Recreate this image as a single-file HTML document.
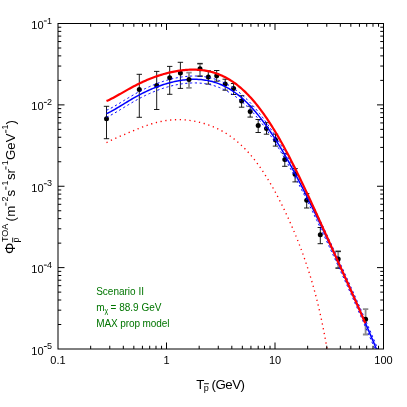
<!DOCTYPE html>
<html><head><meta charset="utf-8"><title>plot</title>
<style>
html,body{margin:0;padding:0;background:#fff;}
body{width:407px;height:407px;overflow:hidden;font-family:"Liberation Sans",sans-serif;}
svg{display:block;will-change:transform;}
svg text{font-family:"Liberation Sans",sans-serif;fill:#000;}
</style></head><body>
<svg width="407" height="407" viewBox="0 0 407 407">
<rect x="0" y="0" width="407" height="407" fill="#fff"/>
<defs><clipPath id="c"><rect x="58.0" y="23.5" width="325.5" height="325.5"/></clipPath></defs>
<g fill="none" stroke="#8c8c8c" stroke-width="1.8"><path d="M189.00,72.60V87.80M186.30,72.60h5.40M186.30,87.80h5.40M200.00,63.70V76.20M197.30,63.70h5.40M197.30,76.20h5.40M338.20,251.30V268.10M335.50,251.30h5.40M335.50,268.10h5.40M365.60,309.20V334.50M362.90,309.20h5.40M362.90,334.50h5.40"/></g>
<g fill="none" stroke="#000" stroke-width="0.9"><path d="M106.50,106.30V138.70M103.80,106.30h5.40M103.80,138.70h5.40M139.30,74.30V117.30M136.60,74.30h5.40M136.60,117.30h5.40M156.70,71.40V109.50M154.00,71.40h5.40M154.00,109.50h5.40M169.70,66.40V94.30M167.00,66.40h5.40M167.00,94.30h5.40M180.40,62.30V88.40M177.70,62.30h5.40M177.70,88.40h5.40M208.30,70.80V84.10M205.60,70.80h5.40M205.60,84.10h5.40M216.70,70.50V81.20M214.00,70.50h5.40M214.00,81.20h5.40M225.20,79.20V90.20M222.50,79.20h5.40M222.50,90.20h5.40M233.60,83.50V94.50M230.90,83.50h5.40M230.90,94.50h5.40M241.60,95.70V107.20M238.90,95.70h5.40M238.90,107.20h5.40M250.20,106.20V117.10M247.50,106.20h5.40M247.50,117.10h5.40M258.20,119.50V132.50M255.50,119.50h5.40M255.50,132.50h5.40M266.50,122.70V134.20M263.80,122.70h5.40M263.80,134.20h5.40M275.50,134.20V146.10M272.80,134.20h5.40M272.80,146.10h5.40M284.80,153.60V166.30M282.10,153.60h5.40M282.10,166.30h5.40M295.10,168.60V181.90M292.40,168.60h5.40M292.40,181.90h5.40M306.70,193.60V208.00M304.00,193.60h5.40M304.00,208.00h5.40M320.30,227.50V243.70M317.60,227.50h5.40M317.60,243.70h5.40M197.30,63.70h5.40M197.30,76.20h5.40M335.50,251.30h5.40M335.50,268.10h5.40"/></g>
<g fill="#000"><circle cx="106.50" cy="118.80" r="2.5"/><circle cx="139.30" cy="89.50" r="2.5"/><circle cx="156.70" cy="85.40" r="2.5"/><circle cx="169.70" cy="77.70" r="2.5"/><circle cx="180.40" cy="72.90" r="2.5"/><circle cx="200.00" cy="68.80" r="2.5"/><circle cx="208.30" cy="77.00" r="2.5"/><circle cx="216.70" cy="75.80" r="2.5"/><circle cx="225.20" cy="84.10" r="2.5"/><circle cx="233.60" cy="88.60" r="2.5"/><circle cx="241.60" cy="101.00" r="2.5"/><circle cx="250.20" cy="111.50" r="2.5"/><circle cx="258.20" cy="125.40" r="2.5"/><circle cx="266.50" cy="128.40" r="2.5"/><circle cx="275.50" cy="139.90" r="2.5"/><circle cx="284.80" cy="159.50" r="2.5"/><circle cx="295.10" cy="174.20" r="2.5"/><circle cx="306.70" cy="200.20" r="2.5"/><circle cx="320.30" cy="234.80" r="2.5"/><circle cx="338.20" cy="258.90" r="2.5"/></g>
<g clip-path="url(#c)" fill="none">
<path d="M106.50,110.29 L107.89,109.67 L109.28,109.01 L110.68,108.31 L112.07,107.57 L113.46,106.80 L114.85,106.01 L116.24,105.20 L117.64,104.38 L119.03,103.54 L120.42,102.70 L121.81,101.85 L123.20,101.00 L124.60,100.15 L125.99,99.30 L127.38,98.45 L128.77,97.62 L130.16,96.79 L131.56,95.97 L132.95,95.16 L134.34,94.36 L135.73,93.58 L137.12,92.81 L138.52,92.05 L139.91,91.31 L141.30,90.58 L142.69,89.87 L144.08,89.18 L145.47,88.50 L146.87,87.84 L148.26,87.19 L149.65,86.57 L151.04,85.96 L152.43,85.36 L153.83,84.79 L155.22,84.23 L156.61,83.69 L158.00,83.17 L159.39,82.66 L160.79,82.17 L162.18,81.70 L163.57,81.25 L164.96,80.81 L166.35,80.39 L167.75,79.99 L169.14,79.61 L170.53,79.24 L171.92,78.89 L173.31,78.56 L174.71,78.25 L176.10,77.96 L177.49,77.69 L178.88,77.43 L180.27,77.20 L181.67,76.99 L183.06,76.79 L184.45,76.62 L185.84,76.46 L187.23,76.33 L188.63,76.22 L190.02,76.14 L191.41,76.07 L192.80,76.03 L194.19,76.02 L195.59,76.03 L196.98,76.06 L198.37,76.12 L199.76,76.21 L201.15,76.32 L202.55,76.47 L203.94,76.64 L205.33,76.84 L206.72,77.07 L208.11,77.33 L209.51,77.62 L210.90,77.94 L212.29,78.30 L213.68,78.69 L215.07,79.11 L216.46,79.57 L217.86,80.06 L219.25,80.59 L220.64,81.16 L222.03,81.76 L223.42,82.40 L224.82,83.08 L226.21,83.80 L227.60,84.56 L228.99,85.35 L230.38,86.19 L231.78,87.07 L233.17,87.99 L234.56,88.95 L235.95,89.95 L237.34,91.00 L238.74,92.08 L240.13,93.21 L241.52,94.39 L242.91,95.60 L244.30,96.86 L245.70,98.17 L247.09,99.51 L248.48,100.90 L249.87,102.34 L251.26,103.81 L252.66,105.33 L254.05,106.90 L255.44,108.50 L256.83,110.15 L258.22,111.84 L259.62,113.58 L261.01,115.35 L262.40,117.17 L263.79,119.03 L265.18,120.92 L266.58,122.86 L267.97,124.84 L269.36,126.86 L270.75,128.92 L272.14,131.01 L273.54,133.14 L274.93,135.31 L276.32,137.51 L277.71,139.75 L279.10,142.02 L280.49,144.33 L281.89,146.67 L283.28,149.04 L284.67,151.44 L286.06,153.88 L287.45,156.34 L288.85,158.83 L290.24,161.35 L291.63,163.89 L293.02,166.47 L294.41,169.06 L295.81,171.68 L297.20,174.33 L298.59,176.99 L299.98,179.68 L301.37,182.39 L302.77,185.12 L304.16,187.87 L305.55,190.63 L306.94,193.42 L308.33,196.22 L309.73,199.03 L311.12,201.86 L312.51,204.71 L313.90,207.57 L315.29,210.44 L316.69,213.32 L318.08,216.22 L319.47,219.13 L320.86,222.05 L322.25,224.97 L323.65,227.91 L325.04,230.86 L326.43,233.82 L327.82,236.78 L329.21,239.75 L330.61,242.73 L332.00,245.72 L333.39,248.72 L334.78,251.72 L336.17,254.74 L337.57,257.76 L338.96,260.78 L340.35,263.82 L341.74,266.86 L343.13,269.91 L344.53,272.96 L345.92,276.03 L347.31,279.10 L348.70,282.19 L350.09,285.28 L351.48,288.37 L352.88,291.48 L354.27,294.60 L355.66,297.73 L357.05,300.86 L358.44,304.01 L359.84,307.17 L361.23,310.34 L362.62,313.52 L364.01,316.71 L365.40,319.91 L366.80,323.12 L368.19,326.35 L369.58,329.58 L370.97,332.83 L372.36,336.08 L373.76,339.35 L375.15,342.63 L376.54,345.91 L377.93,349.21 L379.32,352.51 L380.72,355.82 L382.11,359.13 L383.50,362.45" stroke="#0000ff" stroke-width="1" stroke-dasharray="2.2 2.6"/>
<path d="M106.50,117.19 L107.89,116.57 L109.28,115.91 L110.68,115.21 L112.07,114.47 L113.46,113.70 L114.85,112.91 L116.24,112.10 L117.64,111.28 L119.03,110.44 L120.42,109.60 L121.81,108.75 L123.20,107.90 L124.60,107.05 L125.99,106.20 L127.38,105.35 L128.77,104.52 L130.16,103.69 L131.56,102.87 L132.95,102.06 L134.34,101.26 L135.73,100.48 L137.12,99.71 L138.52,98.95 L139.91,98.21 L141.30,97.48 L142.69,96.77 L144.08,96.08 L145.47,95.40 L146.87,94.74 L148.26,94.09 L149.65,93.47 L151.04,92.86 L152.43,92.26 L153.83,91.69 L155.22,91.13 L156.61,90.59 L158.00,90.07 L159.39,89.56 L160.79,89.07 L162.18,88.60 L163.57,88.15 L164.96,87.71 L166.35,87.29 L167.75,86.89 L169.14,86.51 L170.53,86.14 L171.92,85.79 L173.31,85.46 L174.71,85.15 L176.10,84.86 L177.49,84.59 L178.88,84.33 L180.27,84.10 L181.67,83.89 L183.06,83.69 L184.45,83.52 L185.84,83.36 L187.23,83.23 L188.63,83.12 L190.02,83.04 L191.41,82.97 L192.80,82.93 L194.19,82.92 L195.59,82.93 L196.98,82.96 L198.37,83.02 L199.76,83.11 L201.15,83.22 L202.55,83.37 L203.94,83.54 L205.33,83.74 L206.72,83.97 L208.11,84.23 L209.51,84.52 L210.90,84.84 L212.29,85.20 L213.68,85.59 L215.07,86.01 L216.46,86.47 L217.86,86.96 L219.25,87.49 L220.64,88.06 L222.03,88.66 L223.42,89.30 L224.82,89.98 L226.21,90.70 L227.60,91.46 L228.99,92.25 L230.38,93.09 L231.78,93.97 L233.17,94.89 L234.56,95.85 L235.95,96.85 L237.34,97.90 L238.74,98.98 L240.13,100.11 L241.52,101.29 L242.91,102.50 L244.30,103.76 L245.70,105.07 L247.09,106.41 L248.48,107.80 L249.87,109.24 L251.26,110.71 L252.66,112.23 L254.05,113.80 L255.44,115.40 L256.83,117.05 L258.22,118.74 L259.62,120.48 L261.01,122.25 L262.40,124.07 L263.79,125.93 L265.18,127.82 L266.58,129.76 L267.97,131.74 L269.36,133.76 L270.75,135.82 L272.14,137.91 L273.54,140.04 L274.93,142.21 L276.32,144.41 L277.71,146.65 L279.10,148.92 L280.49,151.23 L281.89,153.57 L283.28,155.94 L284.67,158.34 L286.06,160.78 L287.45,163.24 L288.85,165.73 L290.24,168.25 L291.63,170.79 L293.02,173.37 L294.41,175.96 L295.81,178.58 L297.20,181.23 L298.59,183.89 L299.98,186.58 L301.37,189.29 L302.77,192.02 L304.16,194.77 L305.55,197.53 L306.94,200.32 L308.33,203.12 L309.73,205.93 L311.12,208.76 L312.51,211.61 L313.90,214.47 L315.29,217.34 L316.69,220.22 L318.08,223.12 L319.47,226.03 L320.86,228.95 L322.25,231.87 L323.65,234.81 L325.04,237.76 L326.43,240.72 L327.82,243.68 L329.21,246.65 L330.61,249.63 L332.00,252.62 L333.39,255.62 L334.78,258.62 L336.17,261.64 L337.57,264.66 L338.96,267.68 L340.35,270.72 L341.74,273.76 L343.13,276.81 L344.53,279.86 L345.92,282.93 L347.31,286.00 L348.70,289.09 L350.09,292.18 L351.48,295.27 L352.88,298.38 L354.27,301.50 L355.66,304.63 L357.05,307.76 L358.44,310.91 L359.84,314.07 L361.23,317.24 L362.62,320.42 L364.01,323.61 L365.40,326.81 L366.80,330.02 L368.19,333.25 L369.58,336.48 L370.97,339.73 L372.36,342.98 L373.76,346.25 L375.15,349.53 L376.54,352.81 L377.93,356.11 L379.32,359.41 L380.72,362.72 L382.11,366.03 L383.50,369.35" stroke="#0000ff" stroke-width="1" stroke-dasharray="2.2 2.6"/>
<path d="M106.50,113.59 L107.89,112.97 L109.28,112.31 L110.68,111.61 L112.07,110.87 L113.46,110.10 L114.85,109.31 L116.24,108.50 L117.64,107.68 L119.03,106.84 L120.42,106.00 L121.81,105.15 L123.20,104.30 L124.60,103.45 L125.99,102.60 L127.38,101.75 L128.77,100.92 L130.16,100.09 L131.56,99.27 L132.95,98.46 L134.34,97.66 L135.73,96.88 L137.12,96.11 L138.52,95.35 L139.91,94.61 L141.30,93.88 L142.69,93.17 L144.08,92.48 L145.47,91.80 L146.87,91.14 L148.26,90.49 L149.65,89.87 L151.04,89.26 L152.43,88.66 L153.83,88.09 L155.22,87.53 L156.61,86.99 L158.00,86.47 L159.39,85.96 L160.79,85.47 L162.18,85.00 L163.57,84.55 L164.96,84.11 L166.35,83.69 L167.75,83.29 L169.14,82.91 L170.53,82.54 L171.92,82.19 L173.31,81.86 L174.71,81.55 L176.10,81.26 L177.49,80.99 L178.88,80.73 L180.27,80.50 L181.67,80.29 L183.06,80.09 L184.45,79.92 L185.84,79.76 L187.23,79.63 L188.63,79.52 L190.02,79.44 L191.41,79.37 L192.80,79.33 L194.19,79.32 L195.59,79.33 L196.98,79.36 L198.37,79.42 L199.76,79.51 L201.15,79.62 L202.55,79.77 L203.94,79.94 L205.33,80.14 L206.72,80.37 L208.11,80.63 L209.51,80.92 L210.90,81.24 L212.29,81.60 L213.68,81.99 L215.07,82.41 L216.46,82.87 L217.86,83.36 L219.25,83.89 L220.64,84.46 L222.03,85.06 L223.42,85.70 L224.82,86.38 L226.21,87.10 L227.60,87.86 L228.99,88.65 L230.38,89.49 L231.78,90.37 L233.17,91.29 L234.56,92.25 L235.95,93.25 L237.34,94.30 L238.74,95.38 L240.13,96.51 L241.52,97.69 L242.91,98.90 L244.30,100.16 L245.70,101.47 L247.09,102.81 L248.48,104.20 L249.87,105.64 L251.26,107.11 L252.66,108.63 L254.05,110.20 L255.44,111.80 L256.83,113.45 L258.22,115.14 L259.62,116.88 L261.01,118.65 L262.40,120.47 L263.79,122.33 L265.18,124.22 L266.58,126.16 L267.97,128.14 L269.36,130.16 L270.75,132.22 L272.14,134.31 L273.54,136.44 L274.93,138.61 L276.32,140.81 L277.71,143.05 L279.10,145.32 L280.49,147.63 L281.89,149.97 L283.28,152.34 L284.67,154.74 L286.06,157.18 L287.45,159.64 L288.85,162.13 L290.24,164.65 L291.63,167.19 L293.02,169.77 L294.41,172.36 L295.81,174.98 L297.20,177.63 L298.59,180.29 L299.98,182.98 L301.37,185.69 L302.77,188.42 L304.16,191.17 L305.55,193.93 L306.94,196.72 L308.33,199.52 L309.73,202.33 L311.12,205.16 L312.51,208.01 L313.90,210.87 L315.29,213.74 L316.69,216.62 L318.08,219.52 L319.47,222.43 L320.86,225.35 L322.25,228.27 L323.65,231.21 L325.04,234.16 L326.43,237.12 L327.82,240.08 L329.21,243.05 L330.61,246.03 L332.00,249.02 L333.39,252.02 L334.78,255.02 L336.17,258.04 L337.57,261.06 L338.96,264.08 L340.35,267.12 L341.74,270.16 L343.13,273.21 L344.53,276.26 L345.92,279.33 L347.31,282.40 L348.70,285.49 L350.09,288.58 L351.48,291.67 L352.88,294.78 L354.27,297.90 L355.66,301.03 L357.05,304.16 L358.44,307.31 L359.84,310.47 L361.23,313.64 L362.62,316.82 L364.01,320.01 L365.40,323.21 L366.80,326.42 L368.19,329.65 L369.58,332.88 L370.97,336.13 L372.36,339.38 L373.76,342.65 L375.15,345.93 L376.54,349.21 L377.93,352.51 L379.32,355.81 L380.72,359.12 L382.11,362.43 L383.50,365.75" stroke="#0000ff" stroke-width="1.5"/>
<g fill="#000"><circle cx="189.00" cy="79.50" r="2.5"/><circle cx="365.60" cy="319.30" r="2.5"/></g>
<path d="M106.50,142.56 L107.61,141.97 L108.72,141.41 L109.83,140.87 L110.94,140.34 L112.05,139.83 L113.15,139.32 L114.26,138.83 L115.37,138.34 L116.48,137.85 L117.59,137.37 L118.70,136.90 L119.81,136.42 L120.92,135.95 L122.03,135.48 L123.14,135.00 L124.24,134.53 L125.35,134.06 L126.46,133.59 L127.57,133.12 L128.68,132.65 L129.79,132.18 L130.90,131.71 L132.01,131.25 L133.12,130.78 L134.23,130.32 L135.34,129.86 L136.44,129.41 L137.55,128.96 L138.66,128.51 L139.77,128.07 L140.88,127.64 L141.99,127.21 L143.10,126.79 L144.21,126.38 L145.32,125.98 L146.43,125.58 L147.53,125.20 L148.64,124.82 L149.75,124.45 L150.86,124.10 L151.97,123.76 L153.08,123.43 L154.19,123.11 L155.30,122.80 L156.41,122.51 L157.52,122.23 L158.63,121.96 L159.73,121.71 L160.84,121.47 L161.95,121.25 L163.06,121.04 L164.17,120.84 L165.28,120.66 L166.39,120.50 L167.50,120.35 L168.61,120.21 L169.72,120.09 L170.82,119.98 L171.93,119.89 L173.04,119.82 L174.15,119.76 L175.26,119.71 L176.37,119.68 L177.48,119.66 L178.59,119.66 L179.70,119.67 L180.81,119.70 L181.92,119.74 L183.02,119.79 L184.13,119.86 L185.24,119.95 L186.35,120.05 L187.46,120.16 L188.57,120.29 L189.68,120.43 L190.79,120.58 L191.90,120.75 L193.01,120.93 L194.11,121.13 L195.22,121.34 L196.33,121.56 L197.44,121.80 L198.55,122.05 L199.66,122.32 L200.77,122.60 L201.88,122.89 L202.99,123.20 L204.10,123.52 L205.21,123.86 L206.31,124.22 L207.42,124.59 L208.53,124.97 L209.64,125.37 L210.75,125.79 L211.86,126.22 L212.97,126.67 L214.08,127.14 L215.19,127.62 L216.30,128.12 L217.40,128.64 L218.51,129.18 L219.62,129.74 L220.73,130.32 L221.84,130.92 L222.95,131.53 L224.06,132.17 L225.17,132.83 L226.28,133.52 L227.39,134.22 L228.49,134.95 L229.60,135.70 L230.71,136.47 L231.82,137.27 L232.93,138.10 L234.04,138.95 L235.15,139.83 L236.26,140.73 L237.37,141.66 L238.48,142.62 L239.59,143.60 L240.69,144.62 L241.80,145.66 L242.91,146.73 L244.02,147.83 L245.13,148.97 L246.24,150.13 L247.35,151.32 L248.46,152.55 L249.57,153.80 L250.68,155.09 L251.78,156.41 L252.89,157.77 L254.00,159.15 L255.11,160.57 L256.22,162.02 L257.33,163.51 L258.44,165.02 L259.55,166.58 L260.66,168.16 L261.77,169.78 L262.88,171.43 L263.98,173.11 L265.09,174.83 L266.20,176.58 L267.31,178.37 L268.42,180.18 L269.53,182.04 L270.64,183.92 L271.75,185.84 L272.86,187.79 L273.97,189.77 L275.07,191.78 L276.18,193.83 L277.29,195.91 L278.40,198.03 L279.51,200.17 L280.62,202.35 L281.73,204.56 L282.84,206.81 L283.95,209.09 L285.06,211.40 L286.17,213.75 L287.27,216.13 L288.38,218.55 L289.49,221.00 L290.60,223.50 L291.71,226.03 L292.82,228.60 L293.93,231.21 L295.04,233.86 L296.15,236.56 L297.26,239.31 L298.36,242.11 L299.47,244.96 L300.58,247.86 L301.69,250.82 L302.80,253.85 L303.91,256.94 L305.02,260.10 L306.13,263.34 L307.24,266.66 L308.35,270.06 L309.46,273.56 L310.56,277.15 L311.67,280.86 L312.78,284.67 L313.89,288.61 L315.00,292.69 L316.11,296.90 L317.22,301.27 L318.33,305.81 L319.44,310.52 L320.55,315.42 L321.65,320.53 L322.76,325.85 L323.87,331.41 L324.98,337.23 L326.09,343.31 L327.20,349.69" stroke="#ff0000" stroke-width="1.35" stroke-dasharray="1.25 3.59"/>
<path d="M106.50,101.04 L107.80,100.48 L109.10,99.88 L110.40,99.25 L111.70,98.60 L113.00,97.92 L114.30,97.23 L115.60,96.52 L116.90,95.80 L118.20,95.07 L119.51,94.33 L120.81,93.59 L122.11,92.85 L123.41,92.11 L124.71,91.36 L126.01,90.63 L127.31,89.89 L128.61,89.16 L129.91,88.44 L131.21,87.73 L132.51,87.03 L133.81,86.34 L135.11,85.66 L136.41,84.99 L137.71,84.33 L139.01,83.68 L140.31,83.05 L141.61,82.43 L142.91,81.82 L144.21,81.23 L145.52,80.65 L146.82,80.09 L148.12,79.54 L149.42,79.00 L150.72,78.48 L152.02,77.97 L153.32,77.48 L154.62,77.00 L155.92,76.54 L157.22,76.09 L158.52,75.65 L159.82,75.23 L161.12,74.83 L162.42,74.44 L163.72,74.06 L165.02,73.70 L166.32,73.35 L167.62,73.01 L168.92,72.69 L170.22,72.39 L171.53,72.10 L172.83,71.83 L174.13,71.57 L175.43,71.32 L176.73,71.09 L178.03,70.88 L179.33,70.68 L180.63,70.50 L181.93,70.34 L183.23,70.19 L184.53,70.06 L185.83,69.95 L187.13,69.85 L188.43,69.77 L189.73,69.72 L191.03,69.68 L192.33,69.66 L193.63,69.66 L194.93,69.68 L196.23,69.72 L197.54,69.78 L198.84,69.86 L200.14,69.97 L201.44,70.10 L202.74,70.25 L204.04,70.43 L205.34,70.63 L206.64,70.86 L207.94,71.11 L209.24,71.39 L210.54,71.70 L211.84,72.03 L213.14,72.40 L214.44,72.79 L215.74,73.21 L217.04,73.67 L218.34,74.15 L219.64,74.67 L220.94,75.21 L222.24,75.79 L223.55,76.41 L224.85,77.05 L226.15,77.74 L227.45,78.45 L228.75,79.20 L230.05,79.99 L231.35,80.82 L232.65,81.68 L233.95,82.58 L235.25,83.51 L236.55,84.49 L237.85,85.50 L239.15,86.55 L240.45,87.64 L241.75,88.77 L243.05,89.95 L244.35,91.16 L245.65,92.41 L246.95,93.70 L248.25,95.03 L249.56,96.40 L250.86,97.81 L252.16,99.27 L253.46,100.76 L254.76,102.30 L256.06,103.87 L257.36,105.49 L258.66,107.15 L259.96,108.85 L261.26,110.58 L262.56,112.36 L263.86,114.18 L265.16,116.03 L266.46,117.93 L267.76,119.86 L269.06,121.83 L270.36,123.84 L271.66,125.89 L272.96,127.97 L274.26,130.09 L275.57,132.25 L276.87,134.44 L278.17,136.66 L279.47,138.92 L280.77,141.21 L282.07,143.53 L283.37,145.89 L284.67,148.27 L285.97,150.69 L287.27,153.13 L288.57,155.60 L289.87,158.10 L291.17,160.63 L292.47,163.18 L293.77,165.76 L295.07,168.36 L296.37,170.98 L297.67,173.62 L298.97,176.29 L300.27,178.97 L301.58,181.67 L302.88,184.40 L304.18,187.13 L305.48,189.89 L306.78,192.66 L308.08,195.44 L309.38,198.24 L310.68,201.05 L311.98,203.87 L313.28,206.70 L314.58,209.54 L315.88,212.38 L317.18,215.24 L318.48,218.10 L319.78,220.97 L321.08,223.85 L322.38,226.73 L323.68,229.61 L324.98,232.50 L326.28,235.39 L327.59,238.28 L328.89,241.18 L330.19,244.07 L331.49,246.97 L332.79,249.87 L334.09,252.77 L335.39,255.66 L336.69,258.56 L337.99,261.46 L339.29,264.36 L340.59,267.26 L341.89,270.16 L343.19,273.07 L344.49,275.97 L345.79,278.87 L347.09,281.78 L348.39,284.69 L349.69,287.61 L350.99,290.52 L352.29,293.45 L353.60,296.38 L354.90,299.32 L356.20,302.26 L357.50,305.22 L358.80,308.19 L360.10,311.17 L361.40,314.17 L362.70,317.19 L364.00,320.22 L365.30,323.27" stroke="#ff0000" stroke-width="2.2"/>
</g>
<rect x="58.0" y="23.5" width="325.5" height="325.5" fill="none" stroke="#000" stroke-width="1"/>
<path d="M90.66,349.00v-3.25M90.66,23.50v3.25M109.77,349.00v-3.25M109.77,23.50v3.25M123.32,349.00v-3.25M123.32,23.50v3.25M133.84,349.00v-3.25M133.84,23.50v3.25M142.43,349.00v-3.25M142.43,23.50v3.25M149.69,349.00v-3.25M149.69,23.50v3.25M155.99,349.00v-3.25M155.99,23.50v3.25M161.54,349.00v-3.25M161.54,23.50v3.25M166.50,349.00v-6.50M166.50,23.50v6.50M199.16,349.00v-3.25M199.16,23.50v3.25M218.27,349.00v-3.25M218.27,23.50v3.25M231.82,349.00v-3.25M231.82,23.50v3.25M242.34,349.00v-3.25M242.34,23.50v3.25M250.93,349.00v-3.25M250.93,23.50v3.25M258.19,349.00v-3.25M258.19,23.50v3.25M264.49,349.00v-3.25M264.49,23.50v3.25M270.04,349.00v-3.25M270.04,23.50v3.25M275.00,349.00v-6.50M275.00,23.50v6.50M307.66,349.00v-3.25M307.66,23.50v3.25M326.77,349.00v-3.25M326.77,23.50v3.25M340.32,349.00v-3.25M340.32,23.50v3.25M350.84,349.00v-3.25M350.84,23.50v3.25M359.43,349.00v-3.25M359.43,23.50v3.25M366.69,349.00v-3.25M366.69,23.50v3.25M372.99,349.00v-3.25M372.99,23.50v3.25M378.54,349.00v-3.25M378.54,23.50v3.25M58.00,324.50h3.25M383.50,324.50h-3.25M58.00,310.17h3.25M383.50,310.17h-3.25M58.00,300.01h3.25M383.50,300.01h-3.25M58.00,292.12h3.25M383.50,292.12h-3.25M58.00,285.68h3.25M383.50,285.68h-3.25M58.00,280.23h3.25M383.50,280.23h-3.25M58.00,275.51h3.25M383.50,275.51h-3.25M58.00,271.35h3.25M383.50,271.35h-3.25M58.00,267.62h6.50M383.50,267.62h-6.50M58.00,243.13h3.25M383.50,243.13h-3.25M58.00,228.80h3.25M383.50,228.80h-3.25M58.00,218.63h3.25M383.50,218.63h-3.25M58.00,210.75h3.25M383.50,210.75h-3.25M58.00,204.30h3.25M383.50,204.30h-3.25M58.00,198.86h3.25M383.50,198.86h-3.25M58.00,194.14h3.25M383.50,194.14h-3.25M58.00,189.97h3.25M383.50,189.97h-3.25M58.00,186.25h6.50M383.50,186.25h-6.50M58.00,161.75h3.25M383.50,161.75h-3.25M58.00,147.42h3.25M383.50,147.42h-3.25M58.00,137.26h3.25M383.50,137.26h-3.25M58.00,129.37h3.25M383.50,129.37h-3.25M58.00,122.93h3.25M383.50,122.93h-3.25M58.00,117.48h3.25M383.50,117.48h-3.25M58.00,112.76h3.25M383.50,112.76h-3.25M58.00,108.60h3.25M383.50,108.60h-3.25M58.00,104.88h6.50M383.50,104.88h-6.50M58.00,80.38h3.25M383.50,80.38h-3.25M58.00,66.05h3.25M383.50,66.05h-3.25M58.00,55.88h3.25M383.50,55.88h-3.25M58.00,48.00h3.25M383.50,48.00h-3.25M58.00,41.55h3.25M383.50,41.55h-3.25M58.00,36.11h3.25M383.50,36.11h-3.25M58.00,31.39h3.25M383.50,31.39h-3.25M58.00,27.22h3.25M383.50,27.22h-3.25" fill="none" stroke="#000" stroke-width="1"/>
<text x="43.6" y="29.00" text-anchor="end" font-size="11">10</text><path d="M43.9,21.00h2.9" stroke="#000" stroke-width="0.9" fill="none"/><text x="46.9" y="23.60" font-size="9">1</text><text x="43.6" y="110.38" text-anchor="end" font-size="11">10</text><path d="M43.9,102.38h2.9" stroke="#000" stroke-width="0.9" fill="none"/><text x="46.9" y="104.97" font-size="9">2</text><text x="43.6" y="191.75" text-anchor="end" font-size="11">10</text><path d="M43.9,183.75h2.9" stroke="#000" stroke-width="0.9" fill="none"/><text x="46.9" y="186.35" font-size="9">3</text><text x="43.6" y="273.12" text-anchor="end" font-size="11">10</text><path d="M43.9,265.12h2.9" stroke="#000" stroke-width="0.9" fill="none"/><text x="46.9" y="267.73" font-size="9">4</text><text x="43.6" y="354.50" text-anchor="end" font-size="11">10</text><path d="M43.9,346.50h2.9" stroke="#000" stroke-width="0.9" fill="none"/><text x="46.9" y="349.10" font-size="9">5</text>
<text x="58.00" y="364.2" text-anchor="middle" font-size="11">0.1</text><text x="166.50" y="364.2" text-anchor="middle" font-size="11">1</text><text x="275.00" y="364.2" text-anchor="middle" font-size="11">10</text><text x="383.50" y="364.2" text-anchor="middle" font-size="11">100</text>
<g font-size="13.3">
<text x="196.3" y="388.5">T</text><text x="203.8" y="390.6" font-size="9">p</text><path d="M204.1,383.7h4.8" stroke="#000" stroke-width="0.9" fill="none"/>
<text x="211.5" y="388.5" letter-spacing="-0.5">(GeV)</text>
</g>
<g transform="translate(15.2,253.6) rotate(-90)" font-size="13.3">
<text x="-0.3" y="0.2" font-size="14.3">Φ</text>
<text x="11.5" y="-7.1" font-size="9">TOA</text>
<text x="11.0" y="3.3" font-size="9">p</text><path d="M11.2,-2.5h4.8" stroke="#000" stroke-width="0.9" fill="none"/>
<text x="32.0" y="0">(</text><text x="36.8" y="0">m</text><path d="M47.8,-9.3h3.2" stroke="#000" stroke-width="0.9" fill="none"/><text x="52.1" y="-6.9" font-size="9">2</text>
<text x="57.1" y="0">s</text><path d="M63.8,-9.3h3.2" stroke="#000" stroke-width="0.9" fill="none"/><text x="68.2" y="-6.9" font-size="9">1</text>
<text x="73.5" y="0">sr</text><path d="M84.0,-9.3h3.2" stroke="#000" stroke-width="0.9" fill="none"/><text x="88.4" y="-6.9" font-size="9">1</text>
<text x="93.5" y="0">GeV</text><path d="M120.6,-9.3h3.2" stroke="#000" stroke-width="0.9" fill="none"/><text x="124.1" y="-6.9" font-size="9">1</text>
<text x="129.0" y="0">)</text>
</g>
<g font-size="10" style="fill:#007500">
<text x="96.2" y="294.8" style="fill:#007500">Scenario II</text>
<text x="96.2" y="311.0" style="fill:#007500">m</text><text x="104.6" y="313.2" font-size="7" style="fill:#007500">χ</text><text x="110.6" y="311.0" style="fill:#007500">= 88.9 GeV</text>
<text x="96.2" y="327.1" style="fill:#007500" letter-spacing="-0.1">MAX prop model</text>
</g>
</svg>
</body></html>
